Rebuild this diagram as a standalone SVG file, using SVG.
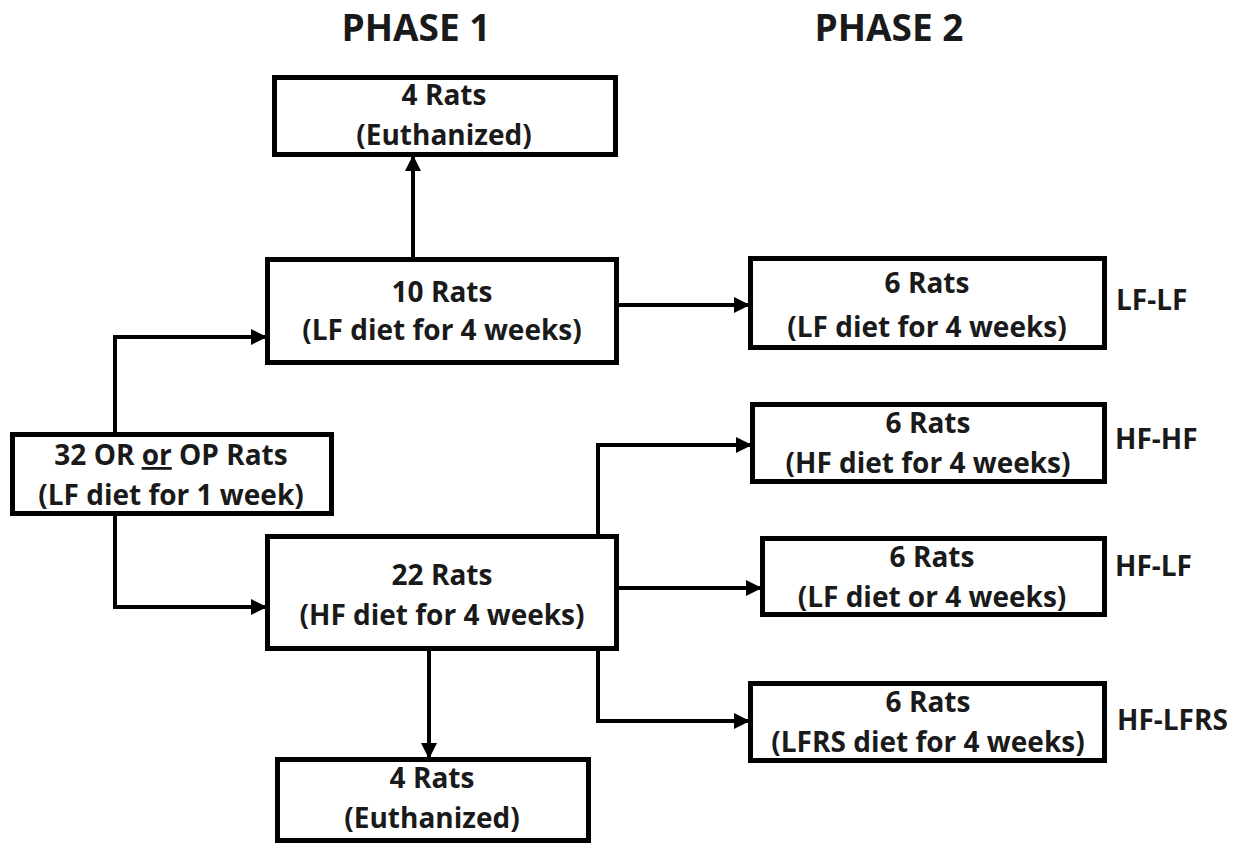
<svg xmlns="http://www.w3.org/2000/svg" width="1246" height="844" viewBox="0 0 1246 844">
<style>
.box{fill:#fff;stroke:#000;stroke-width:5}
.t{font-family:"Open Sans","Liberation Sans",sans-serif;font-weight:bold;font-size:28px;fill:#1a1a1a;text-anchor:middle}
.lbl{font-family:"Open Sans","Liberation Sans",sans-serif;font-weight:bold;font-size:28px;fill:#1a1a1a}
.title{font-family:"Open Sans","Liberation Sans",sans-serif;font-weight:bold;font-size:37px;fill:#1a1a1a;text-anchor:middle}
.c{fill:none;stroke:#000;stroke-width:4}
</style>
<defs>
<marker id="ah" markerUnits="userSpaceOnUse" viewBox="0 0 16 16" markerWidth="16" markerHeight="16" refX="14" refY="8" orient="auto">
<path d="M0,0 L16,8 L0,16 z" fill="#000"/>
</marker>
</defs>
<rect width="1246" height="844" fill="#fff"/>
<text class="title" x="416" y="41">PHASE 1</text>
<text class="title" x="889" y="41">PHASE 2</text>
<g id="connectors">
<path class="c" d="M115,432 V337 H265" marker-end="url(#ah)"/>
<path class="c" d="M115,516 V607 H265" marker-end="url(#ah)"/>
<path class="c" d="M413,257 V157" marker-end="url(#ah)"/>
<path class="c" d="M619,305 H748" marker-end="url(#ah)"/>
<path class="c" d="M598,534 V445 H750" marker-end="url(#ah)"/>
<path class="c" d="M619,588 H760" marker-end="url(#ah)"/>
<path class="c" d="M598,651 V721 H748" marker-end="url(#ah)"/>
<path class="c" d="M429,651 V757" marker-end="url(#ah)"/>
</g>
<g id="start">
<rect class="box" x="12.5" y="434.5" width="319" height="79"/>
<text class="t" x="171" y="465">32 OR <tspan text-decoration="underline">or</tspan> OP Rats</text>
<text class="t" x="171" y="505">(LF diet for 1 week)</text>
</g>
<g id="euth-top">
<rect class="box" x="274.5" y="77.5" width="341" height="77"/>
<text class="t" x="444" y="105">4 Rats</text>
<text class="t" x="444" y="145">(Euthanized)</text>
</g>
<g id="lf10">
<rect class="box" x="267.5" y="259.5" width="349" height="103"/>
<text class="t" x="442" y="302">10 Rats</text>
<text class="t" x="442" y="340">(LF diet for 4 weeks)</text>
</g>
<g id="hf22">
<rect class="box" x="267.5" y="536.5" width="349" height="112"/>
<text class="t" x="442" y="585">22 Rats</text>
<text class="t" x="442" y="625">(HF diet for 4 weeks)</text>
</g>
<g id="euth-bottom">
<rect class="box" x="277.5" y="759.5" width="311" height="81"/>
<text class="t" x="432" y="788">4 Rats</text>
<text class="t" x="432" y="828">(Euthanized)</text>
</g>
<g id="lflf">
<rect class="box" x="750.5" y="258.5" width="354" height="89"/>
<text class="t" x="927" y="293">6 Rats</text>
<text class="t" x="927" y="337">(LF diet for 4 weeks)</text>
<text class="lbl" x="1116" y="310">LF-LF</text>
</g>
<g id="hfhf">
<rect class="box" x="752.5" y="404.5" width="352" height="77"/>
<text class="t" x="928" y="433">6 Rats</text>
<text class="t" x="928" y="473">(HF diet for 4 weeks)</text>
<text class="lbl" x="1115" y="449">HF-HF</text>
</g>
<g id="hflf">
<rect class="box" x="762.5" y="538.5" width="342" height="76"/>
<text class="t" x="932" y="567">6 Rats</text>
<text class="t" x="932" y="607">(LF diet or 4 weeks)</text>
<text class="lbl" x="1115" y="576">HF-LF</text>
</g>
<g id="hflfrs">
<rect class="box" x="750.5" y="683.5" width="354" height="77"/>
<text class="t" x="928" y="712">6 Rats</text>
<text class="t" x="928" y="752">(LFRS diet for 4 weeks)</text>
<text class="lbl" x="1117" y="730">HF-LFRS</text>
</g>
</svg>
